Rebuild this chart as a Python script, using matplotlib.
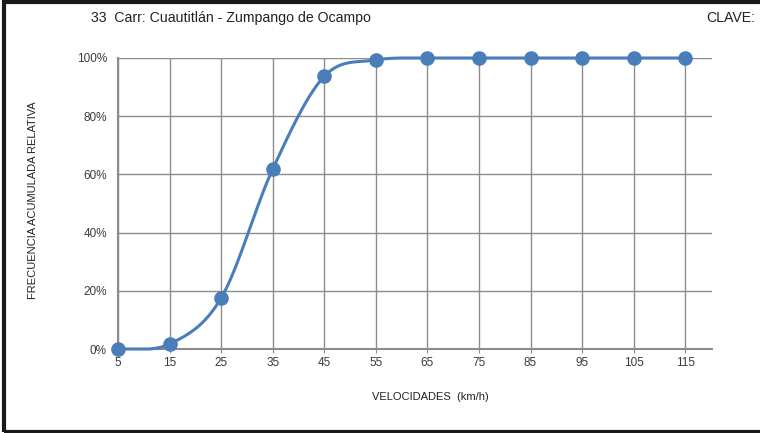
import numpy as np
import matplotlib
matplotlib.use("Agg")
import matplotlib.pyplot as plt
from matplotlib.patches import Rectangle
from matplotlib.ticker import FuncFormatter

plt.rcParams['font.family'] = ['Liberation Sans', 'DejaVu Sans']

# datos
velocidades = [5, 15, 25, 35, 45, 55, 65, 75, 85, 95, 105, 115]
frecuencia = [0.0, 0.017, 0.175, 0.618, 0.937, 0.993, 1.0, 1.0, 1.0, 1.0, 1.0, 1.0]
titulo = "33  Carr: Cuautitlán - Zumpango de Ocampo"


def smooth_line(x, y, n=30):
    """Curva suavizada tipo Excel (Bezier cardinal) que pasa por los puntos."""
    x = np.asarray(x, float)
    y = np.asarray(y, float)
    px = np.concatenate([[x[0]], x, [x[-1]]])
    py = np.concatenate([[y[0]], y, [y[-1]]])
    xs, ys = [], []
    t = np.linspace(0, 1, n)
    for i in range(1, len(px) - 2):
        p0 = np.array([px[i], py[i]])
        p3 = np.array([px[i + 1], py[i + 1]])
        p1 = p0 + (p3 - np.array([px[i - 1], py[i - 1]])) / 6.0
        p2 = p3 - (np.array([px[i + 2], py[i + 2]]) - p0) / 6.0
        b = ((1 - t) ** 3)[:, None] * p0 + (3 * (1 - t) ** 2 * t)[:, None] * p1 \
            + (3 * (1 - t) * t ** 2)[:, None] * p2 + (t ** 3)[:, None] * p3
        xs.extend(b[:, 0])
        ys.extend(b[:, 1])
    # no dejar que la curva se salga de 0..100%
    return np.array(xs), np.clip(np.array(ys), 0, 1)


fig = plt.figure(figsize=(7.6, 4.33), dpi=100)
ax = fig.add_axes([118 / 760, 1 - 349 / 433, (712 - 118) / 760, (349 - 58) / 433])

sx, sy = smooth_line(velocidades, frecuencia)
ax.plot(sx, sy, color='#4a7ebb', lw=2.2, zorder=3, clip_on=False)
ax.plot(velocidades, frecuencia, 'o', color='#4a7ebb', ms=9.5, zorder=4, clip_on=False)

ax.set_xlim(5, 120.2)
ax.set_ylim(0, 1)
ax.set_xticks(velocidades)
ax.set_yticks(np.arange(0, 1.01, 0.2))
ax.yaxis.set_major_formatter(FuncFormatter(lambda v, p: f"{v * 100:.0f}%"))
ax.grid(True, color='#8c8c8c', lw=1.0)
ax.set_axisbelow(True)
for s in ['top', 'right']:
    ax.spines[s].set_visible(False)
for s in ['left', 'bottom']:
    ax.spines[s].set_color('#8c8c8c')
    ax.spines[s].set_linewidth(1.5)
ax.tick_params(axis='both', colors='#8c8c8c', labelcolor='#3a3a3a', labelsize=8.5, length=3)
ax.tick_params(axis='y', length=0, pad=8)
ax.tick_params(axis='x', pad=3)

fig.text(33 / 760, 1 - 200 / 433, "FRECUENCIA ACUMULADA RELATIVA", rotation=90,
         ha='center', va='center', fontsize=8, color='#222222')
fig.text(430 / 760, 1 - 397 / 433, "VELOCIDADES  (km/h)", ha='center', va='center',
         fontsize=8, color='#222222')
fig.text(231 / 760, 1 - 18 / 433, titulo, ha='center', va='center', fontsize=10.2,
         color='#222222')
fig.text(755 / 760, 1 - 18 / 433, "CLAVE:", ha='right', va='center', fontsize=10.2,
         color='#222222')

# marco negro del recuadro
fig.add_artist(Rectangle((4 / 760, 1 / 433), 1.0, 430 / 433, transform=fig.transFigure,
                         fill=False, edgecolor='#1a1a1a', lw=3))

fig.savefig("out.png", dpi=100)
